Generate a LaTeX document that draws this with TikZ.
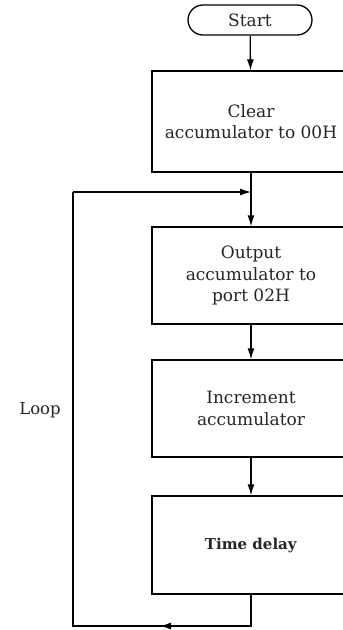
\documentclass[tikz,border=0pt]{standalone}
\usepackage{fontspec}
\setmainfont{DejaVu Serif}
\usetikzlibrary{arrows.meta,positioning}

\begin{document}
\begin{tikzpicture}[x=1pt, y=-1pt,
    term/.style={draw, rounded corners=15pt, minimum width=124pt, minimum height=30pt, align=center, line width=1.3pt},
    proc/.style={draw, minimum width=198pt, minimum height=98pt, align=center, line width=1.3pt},
    arr/.style={-{Latex[length=11pt,width=7pt]}, line width=1.3pt},
    ln/.style={line width=1.3pt},
    lbl/.style={font=\fontsize{16.5}{20}\selectfont, text=black!85}
]
\clip (0,0) rectangle (343,630);
\fill[white] (0,0) rectangle (343,630);
\begin{scope}[every node/.append style={font=\fontsize{17}{21.5}\selectfont, text=black!85}]
\node[term] (S) at (250,20) {Start};
\node[proc, minimum height=101pt] (C) at (251,121.5) {Clear\\accumulator to 00H};
\node[proc, minimum height=97pt] (O) at (251,275.5) {Output\\accumulator to\\port 02H};
\node[proc, minimum height=97pt] (I) at (251,408.5) {Increment\\accumulator};
\node[proc] (D) at (251,545) {\fontsize{15}{18}\selectfont\textbf{Time delay}};
\end{scope}
\node[lbl] (L) at (40,410) {Loop};

\coordinate (br) at (251,626);
\coordinate (bm) at (160,626);
\coordinate (bl) at (73,626);
\coordinate (tl) at (73,192);
\coordinate (J) at (251,192);

\draw[arr] (S) -- (C);
\draw[arr] (C) -- (O);
\draw[arr] (O) -- (I);
\draw[arr] (I) -- (D);
\draw[ln] (D) -- (br) -- (bl) -- (tl);
\draw[arr] (br) -- (bm);
\draw[arr] (tl) -- (J);
\end{tikzpicture}
\end{document}
